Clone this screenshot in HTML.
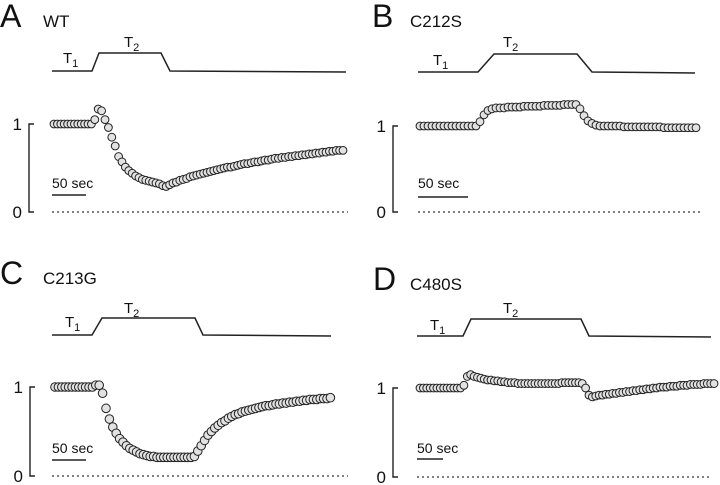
<!DOCTYPE html>
<html><head><meta charset="utf-8"><style>
html,body{margin:0;padding:0;background:#fff;}
svg{display:block;}
text{font-family:"Liberation Sans",Arial,sans-serif;fill:#111;}
</style></head><body>
<svg id="fig" width="720" height="485" viewBox="0 0 720 485" xmlns="http://www.w3.org/2000/svg"></svg>
<script>
// ---- data (normalized response vs time index) ----
const valuesA = [1,1,1,1,1,1,1,1,1,1,1,1,1.05,1.17,1.15,1.05,0.96,0.85,0.75,0.63,0.57,0.51,0.47,0.44,0.41,0.39,0.37,0.36,0.35,0.34,0.33,0.32,0.30,0.29,0.31,0.33,0.34,0.36,0.37,0.38,0.40,0.41,0.42,0.43,0.44,0.45,0.46,0.47,0.48,0.49,0.50,0.51,0.51,0.52,0.53,0.54,0.55,0.55,0.56,0.57,0.57,0.58,0.59,0.59,0.60,0.61,0.61,0.62,0.62,0.63,0.63,0.64,0.64,0.65,0.65,0.66,0.66,0.67,0.67,0.68,0.68,0.69,0.69,0.70,0.70,0.70];
const valuesB = [1,1,1,1,1,1,1,1,1,1,1,1,1,1,1,1.05,1.13,1.18,1.20,1.21,1.21,1.21,1.22,1.22,1.22,1.22,1.23,1.23,1.23,1.23,1.23,1.24,1.24,1.24,1.24,1.24,1.25,1.25,1.25,1.25,1.20,1.12,1.06,1.03,1.01,1.00,1.00,1.00,1.00,1.00,1.00,0.99,0.99,0.99,0.99,0.99,0.99,0.99,0.99,0.99,0.99,0.98,0.98,0.98,0.98,0.98,0.98,0.98,0.98,0.98];
const valuesC = [1,1,1,1,1,1,1,1,1,1,1,1,1.02,1.02,0.93,0.76,0.64,0.55,0.48,0.42,0.38,0.34,0.31,0.29,0.27,0.25,0.24,0.23,0.22,0.22,0.21,0.21,0.21,0.21,0.21,0.21,0.21,0.21,0.21,0.21,0.21,0.22,0.28,0.34,0.40,0.46,0.50,0.54,0.57,0.60,0.62,0.65,0.67,0.69,0.70,0.72,0.73,0.74,0.75,0.76,0.77,0.78,0.79,0.79,0.80,0.81,0.81,0.82,0.82,0.83,0.83,0.84,0.84,0.85,0.85,0.86,0.86,0.86,0.87,0.87,0.87,0.88];
const valuesD = [1,1,1,1,1,1,1,1,1,1,1,1,1,1.03,1.13,1.15,1.13,1.12,1.11,1.10,1.09,1.09,1.08,1.08,1.07,1.07,1.06,1.06,1.06,1.05,1.05,1.05,1.05,1.05,1.05,1.05,1.05,1.05,1.05,1.05,1.05,1.05,1.06,1.06,1.06,1.06,1.06,1.06,1.05,1.00,0.92,0.90,0.91,0.92,0.92,0.93,0.93,0.94,0.94,0.95,0.95,0.96,0.96,0.97,0.97,0.98,0.98,0.99,0.99,1.00,1.00,1.01,1.01,1.01,1.02,1.02,1.02,1.03,1.03,1.03,1.04,1.04,1.04,1.04,1.05,1.05,1.05,1.05];
const panelLetters = ["A","B","C","D"];
const panelTitles = ["WT","C212S","C213G","C480S"];
const yTicks = [0,1];
const scaleBarSeconds = 50;

const NS="http://www.w3.org/2000/svg";
const svg=document.getElementById('fig');
function mk(tag,attrs,parent){const e=document.createElementNS(NS,tag);for(const k in attrs)e.setAttribute(k,attrs[k]);(parent||svg).appendChild(e);return e;}

const panels=[
 {vals:valuesA,x0:54,pps:0.68,dt:5,y1:124,y0:212,ax:29,dl:52,dr:348,
  temp:{lo:71,hi:53,x:[52,92,99,161,170,346]},t1:[63,63],t2:[124,47],sb:[52,188,195],r:3.9,title:[43,27],letter:[0,27]},
 {vals:valuesB,x0:420,pps:1.0,dt:4,y1:126,y0:212,ax:393,dl:418,dr:702,
  temp:{lo:72,hi:54,x:[418,478,494,577,592,695]},t1:[433,65],t2:[503,47],sb:[418,188,197],r:3.9,title:[410,27],letter:[372,27]},
 {vals:valuesC,x0:55,pps:0.68,dt:5,y1:387,y0:476,ax:30,dl:52,dr:348,
  temp:{lo:335,hi:318,x:[52,92,102,195,203,331]},t1:[65,327],t2:[124,313],sb:[52,453,460],r:4.3,title:[43,284],letter:[0,284]},
 {vals:valuesD,x0:420,pps:0.52,dt:6.5,y1:388,y0:477,ax:393,dl:417,dr:710,
  temp:{lo:336,hi:319,x:[417,463,471,581,589,711]},t1:[430,330],t2:[503,313],sb:[417,453,459],r:3.9,title:[410,290],letter:[373,290]}
];

panels.forEach((p,pi)=>{
  const id=panelLetters[pi].toLowerCase();
  const g=mk('g',{});
  
  
  const xs=t=>p.x0+t*p.pps;
  const yScale=v=>p.y0+(p.y1-p.y0)*v;
  const L=mk('text',{x:p.letter[0],y:p.letter[1],'font-size':32},g);L.textContent=panelLetters[pi];
  
  const T=mk('text',{x:p.title[0],y:p.title[1],'font-size':17},g);T.textContent=panelTitles[pi];
  
  const tx=p.temp.x,lo=p.temp.lo,hi=p.temp.hi;
  const tp=mk('polyline',{points:`${tx[0]},${lo} ${tx[1]},${lo} ${tx[2]},${hi} ${tx[3]},${hi} ${tx[4]},${lo} ${tx[5]},${lo+1}`,fill:'none',stroke:'#222','stroke-width':1.5},g);
  
  const t1=mk('text',{x:p.t1[0],y:p.t1[1],'font-size':15},g);t1.innerHTML='T<tspan font-size="11" dy="4">1</tspan>';
  
  const t2=mk('text',{x:p.t2[0],y:p.t2[1],'font-size':15},g);t2.innerHTML='T<tspan font-size="11" dy="4">2</tspan>';
  
  const yTop=yScale(yTicks[1]),yBot=yScale(yTicks[0]);
  const ax=mk('polyline',{points:`${p.ax+5},${yTop} ${p.ax},${yTop} ${p.ax},${yBot} ${p.ax+5},${yBot}`,fill:'none',stroke:'#222','stroke-width':1.4},g);
  
  yTicks.forEach(tk=>{
    const lt=mk('text',{x:p.ax-7,y:yScale(tk)+6,'font-size':17,'text-anchor':'end'},g);lt.textContent=tk;
    
  });
  const dl=mk('line',{x1:p.dl,x2:p.dr,y1:yBot,y2:yBot,stroke:'#333','stroke-width':1.2,'stroke-dasharray':'2,3'},g);
  
  const sbw=scaleBarSeconds*p.pps;
  const st=mk('text',{x:p.sb[0],y:p.sb[1],'font-size':14},g);st.textContent=scaleBarSeconds+' sec';
  
  const sl=mk('line',{x1:p.sb[0],x2:p.sb[0]+sbw,y1:p.sb[2],y2:p.sb[2],stroke:'#222','stroke-width':1.4},g);
  
  p.vals.forEach((v,i)=>{
    const c=mk('circle',{cx:xs(i*p.dt),cy:yScale(v),r:p.r,fill:'#e2e2e2',stroke:'#222','stroke-width':1},g);
    
    
  });
});
</script>
</body></html>
